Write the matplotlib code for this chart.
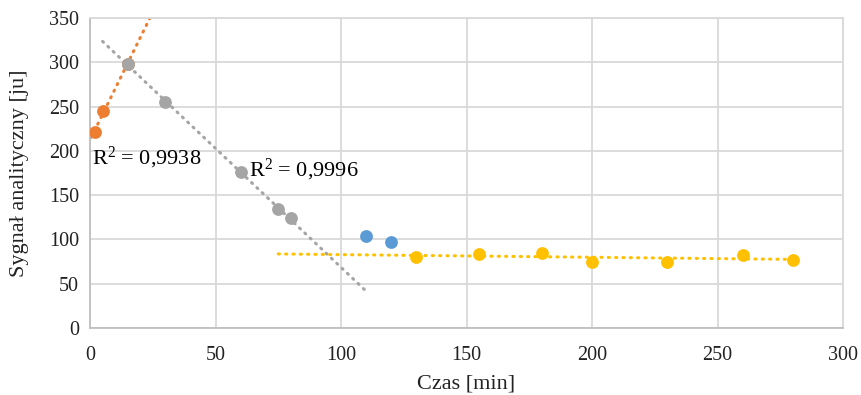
import numpy as np
import matplotlib.pyplot as plt

plt.rcParams['font.family'] = ['Liberation Serif', 'DejaVu Serif']

# serie pomiarowe
x_orange = [2, 5, 15]
y_orange = [221, 245, 298]
x_gray = [15, 30, 60, 75, 80]
y_gray = [298, 255, 176, 134, 124]
x_blue = [110, 120]
y_blue = [104, 97]
x_yellow = [130, 155, 180, 200, 230, 260, 280]
y_yellow = [80, 84, 85, 75, 75, 82, 77]

r2_orange = '0,9938'
r2_gray = '0,9996'

c_orange = '#ED7D31'
c_gray = '#A5A5A5'
c_blue = '#5B9BD5'
c_yellow = '#FFC000'

fig = plt.figure(figsize=(8.61, 3.95), dpi=100)
ax = fig.add_axes([90 / 861, 67 / 395, 753 / 861, 310 / 395])

def trend(xs, ys, x0, x1, color):
    a, b = np.polyfit(xs, ys, 1)
    xx = np.array([x0, x1])
    ax.plot(xx, a * xx + b, color=color, lw=2.2, linestyle=(0, (0.4, 2.0)),
            dash_capstyle='round', zorder=2)

trend(x_orange, y_orange, 0.5, 30, c_orange)
trend(x_gray, y_gray, 5, 110, c_gray)
trend(x_yellow, y_yellow, 75, 280, c_yellow)

ax.scatter(x_orange, y_orange, s=85, color=c_orange, zorder=3, linewidths=0)
ax.scatter(x_gray, y_gray, s=85, color=c_gray, zorder=4, linewidths=0)
ax.scatter(x_blue, y_blue, s=85, color=c_blue, zorder=3, linewidths=0)
ax.scatter(x_yellow, y_yellow, s=85, color=c_yellow, zorder=3, linewidths=0)

ax.text(0.8, 192, '$\\mathregular{R^2}$ = ' + r2_orange, fontsize=16, va='center', ha='left')
ax.text(63.5, 179, '$\\mathregular{R^2}$ = ' + r2_gray, fontsize=16, va='center', ha='left')

ax.set_xlim(0, 300)
ax.set_ylim(0, 350)
ax.set_xticks(np.arange(0, 301, 50))
ax.set_yticks(np.arange(0, 351, 50))
ax.grid(True, color='#D9D9D9', lw=1.3)
ax.set_axisbelow(True)
for s in ax.spines.values():
    s.set_color('#D9D9D9')
    s.set_linewidth(1.3)
ax.spines['left'].set_color('#BFBFBF')
ax.spines['bottom'].set_color('#BFBFBF')
ax.tick_params(length=0, labelsize=14.5, labelcolor='#222222')
ax.tick_params(axis='x', pad=13)
ax.tick_params(axis='y', pad=8)
ax.set_xlabel('Czas [min]', fontsize=16, labelpad=7, color='#222222')
ax.set_ylabel('Sygnał analityczny [ju]', fontsize=16, labelpad=14, color='#222222')

fig.savefig('out.png', dpi=100)
